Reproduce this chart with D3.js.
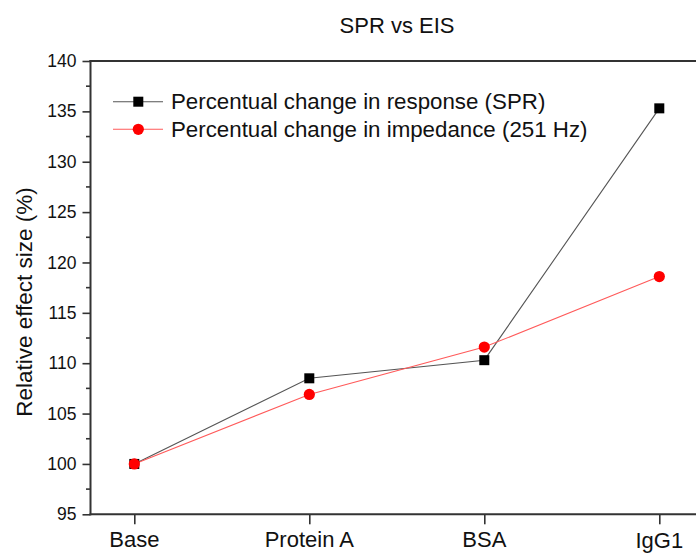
<!DOCTYPE html>
<html>
<head>
<meta charset="utf-8">
<script src="https://cdn.jsdelivr.net/npm/d3@7"></script>
<style>
  html, body { margin: 0; padding: 0; background: #fff; }
  svg { display: block; font-family: "Liberation Sans", Arial, sans-serif; }
</style>
</head>
<body>
<svg id="chart" width="696" height="553"></svg>
<script>
const categories = ["Base", "Protein A", "BSA", "IgG1"];
const sprValues = [100, 108.5, 110.3, 135.3];
const eisValues = [100, 106.9, 111.6, 118.6];
const yTicks = [95, 100, 105, 110, 115, 120, 125, 130, 135, 140];
const seriesNames = ["Percentual change in response (SPR)", "Percentual change in impedance (251 Hz)"];
const chartTitle = "SPR vs EIS";
const yTitle = "Relative effect size (%)";

(function () {
const svg = d3.select("#chart");
const plotLeft = 90.5, plotTop = 61, plotBottom = 514.3, plotRight = 700;

const x = d3.scalePoint().domain(categories).range([134.3, 659.3]);
const y = d3.scaleLinear().domain([95, 140]).range([plotBottom, plotTop]);

const axisColor = "#333";

// Title
svg.append("text").attr("x", 397).attr("y", 33)
  .attr("text-anchor", "middle").attr("font-size", 22).attr("fill", "#111")
  .text(chartTitle);

// Y axis
const yAxis = d3.axisLeft(y).tickValues(yTicks).tickSize(8).tickPadding(6).tickFormat(d3.format("d"));
const gy = svg.append("g").attr("transform", `translate(${plotLeft},0)`).call(yAxis);
gy.select(".domain").remove();
gy.selectAll(".tick line").attr("stroke", axisColor).attr("stroke-width", 1.6);
gy.selectAll(".tick text").attr("font-size", 17.5).attr("fill", "#111")
  .attr("font-family", "Liberation Sans, Arial, sans-serif");

// Minor y ticks
const minor = d3.range(97.5, 140, 5);
svg.append("g").selectAll("line").data(minor).join("line")
  .attr("x1", plotLeft - 4.5).attr("x2", plotLeft)
  .attr("y1", d => y(d)).attr("y2", d => y(d))
  .attr("stroke", axisColor).attr("stroke-width", 1.6);

// X axis
const xAxis = d3.axisBottom(x).tickSize(10).tickPadding(0).tickFormat("");
const gx = svg.append("g").attr("transform", `translate(0,${plotBottom})`).call(xAxis);
gx.select(".domain").remove();
gx.selectAll(".tick line").attr("stroke", axisColor).attr("stroke-width", 1.6);

svg.append("g").selectAll("text").data(categories).join("text")
  .attr("x", d => x(d)).attr("y", (d, i) => i === categories.length - 1 ? 548 : 547)
  .attr("text-anchor", "middle").attr("font-size", 22).attr("fill", "#111")
  .text(d => d);

// Frame lines
svg.append("line").attr("x1", plotLeft).attr("x2", plotLeft).attr("y1", plotTop - 1).attr("y2", plotBottom + 1)
  .attr("stroke", axisColor).attr("stroke-width", 2);
svg.append("line").attr("x1", plotLeft - 1).attr("x2", plotRight).attr("y1", plotTop).attr("y2", plotTop)
  .attr("stroke", axisColor).attr("stroke-width", 2);
svg.append("line").attr("x1", plotLeft - 1).attr("x2", plotRight).attr("y1", plotBottom).attr("y2", plotBottom)
  .attr("stroke", axisColor).attr("stroke-width", 2);

// Y title
svg.append("text").attr("transform", `translate(31.5,302) rotate(-90)`)
  .attr("text-anchor", "middle").attr("font-size", 22.5).attr("fill", "#111")
  .text(yTitle);

// Lines
const line = d3.line().x((d, i) => x(categories[i])).y(d => y(d));
svg.append("path").datum(sprValues).attr("d", line)
  .attr("fill", "none").attr("stroke", "#555").attr("stroke-width", 1.1);
svg.append("path").datum(eisValues).attr("d", line)
  .attr("fill", "none").attr("stroke", "#ff5a5a").attr("stroke-width", 1.1);

// Markers: SPR squares then EIS circles
const sq = 10;
svg.append("g").selectAll("rect").data(sprValues).join("rect")
  .attr("x", (d, i) => x(categories[i]) - sq / 2).attr("y", d => y(d) - sq / 2)
  .attr("width", sq).attr("height", sq).attr("fill", "#000");
svg.append("g").selectAll("circle").data(eisValues).join("circle")
  .attr("cx", (d, i) => x(categories[i])).attr("cy", d => y(d))
  .attr("r", 5.6).attr("fill", "#ff0000");

// Legend
const legRows = [
  { name: seriesNames[0], y: 101.7, color: "#555", marker: "square" },
  { name: seriesNames[1], y: 129.3, color: "#ff5a5a", marker: "circle" }
];
const lg = svg.append("g");
legRows.forEach(r => {
  lg.append("line").attr("x1", 113).attr("x2", 163).attr("y1", r.y).attr("y2", r.y)
    .attr("stroke", r.color).attr("stroke-width", 1.1);
  if (r.marker === "square") {
    lg.append("rect").attr("x", 138.3 - sq / 2).attr("y", r.y - sq / 2)
      .attr("width", sq).attr("height", sq).attr("fill", "#000");
  } else {
    lg.append("circle").attr("cx", 138.3).attr("cy", r.y).attr("r", 5.6).attr("fill", "#ff0000");
  }
  lg.append("text").attr("x", 171).attr("y", r.y + 7.6)
    .attr("font-size", 22.3).attr("fill", "#111").text(r.name);
});
})();
</script>
</body>
</html>
